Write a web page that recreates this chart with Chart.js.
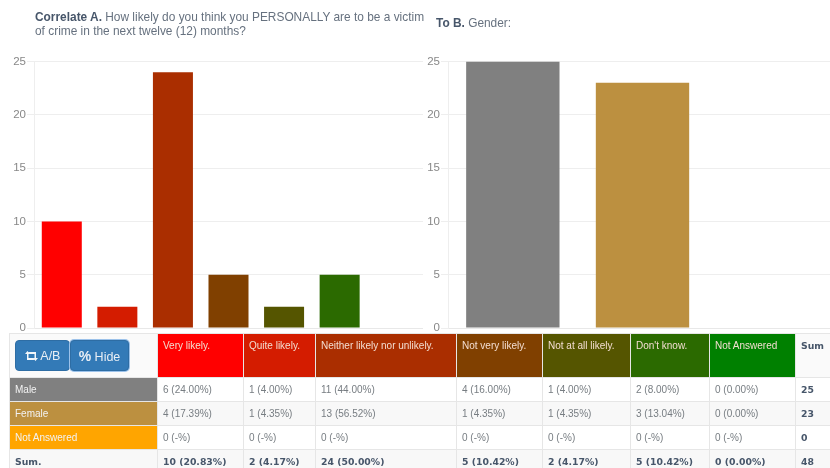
<!DOCTYPE html>
<html><head><meta charset="utf-8">
<script src="https://cdn.jsdelivr.net/npm/chart.js@4"></script>
<style>
html,body{margin:0;padding:0;background:#fff;width:830px;height:468px;overflow:hidden;font-family:"Liberation Sans",Arial,sans-serif}
#page{position:absolute;left:0;top:0;width:830px;height:468px;overflow:hidden;filter:blur(.5px)}
.t{position:absolute;font-size:11.9px;line-height:13.5px;color:#66717f}
.t b{color:#47566a}
.c{position:absolute}
table{position:absolute;left:9px;top:333px;border-collapse:collapse;table-layout:fixed;width:821px;font-size:10px;color:#777d82}
td,th{border:1px solid #e6e6e6;padding:0 0 0 5px;text-align:left;vertical-align:middle;overflow:hidden;white-space:nowrap;font-weight:normal}
thead th{height:44px;vertical-align:top;padding-top:6px;color:#f3ddd0;box-sizing:border-box;line-height:12px}
tbody td{height:24px;box-sizing:border-box}
tr.alt td{background:#f8f8f8}
td.lab{color:#f2f2f2;padding-left:5px}
.sum td{font:bold 9.3px "DejaVu Sans",sans-serif;color:#47566a;background:#f8f8f8}
td.tot,th.tot{font:bold 9.3px "DejaVu Sans",sans-serif!important;color:#47566a!important}
.btn{position:absolute;top:340px;height:31px;background:#337ab7;border:1px solid #2e6da4;border-radius:4px;color:#e8eef5;font-size:12.5px;line-height:31px;text-align:center;box-sizing:border-box}
</style></head><body>
<div id="page">
<div class="t" style="left:35px;top:11px;width:395px"><b>Correlate A.</b> How likely do you think you PERSONALLY are to be a victim of crime in the next twelve (12) months?</div>
<div class="t" style="left:436px;top:17px"><b>To B.</b> Gender:</div>
<div class="c" style="left:0;top:50px;width:423px;height:286px"><canvas id="a"></canvas></div>
<div class="c" style="left:420px;top:50px;width:417px;height:286px"><canvas id="b"></canvas></div>
<table id="tb"></table>
<div class="btn" style="left:15px;width:55px"><svg width="13" height="10" viewBox="0 0 13 10" style="vertical-align:-1px"><path d="M0 3 L2.5 0 L5 3 H3.5 V7 H8 L9.5 9 H2 V3Z M13 7 L10.5 10 L8 7 H9.5 V3 H5 L3.5 1 H11 V7Z" fill="#f2f6fa"/></svg> A/B</div>
<div class="btn" style="left:70px;width:59px;box-shadow:0 0 0 1px #9cc2ea"><b style="font-size:14px">%</b> Hide</div>
</div>
<script>
const catsA=["Very likely.","Quite likely.","Neither likely nor unlikely.","Not very likely.","Not at all likely.","Don't know.","Not Answered"];
const valsA=[10,2,24,5,2,5,0];
const colorsA=["#ff0000","#d41c00","#aa2e00","#804000","#555500","#2b6a00","#008000"];
const catsB=["Male","Female","Not Answered"];
const valsB=[25,23,0];
const colorsB=["#808080","#bc9040","#ffa500"];
const yTicks=[0,5,10,15,20,25];
const rowMale=["6 (24.00%)","1 (4.00%)","11 (44.00%)","4 (16.00%)","1 (4.00%)","2 (8.00%)","0 (0.00%)"];
const rowFemale=["4 (17.39%)","1 (4.35%)","13 (56.52%)","1 (4.35%)","1 (4.35%)","3 (13.04%)","0 (0.00%)"];
const rowNA=["0 (-%)","0 (-%)","0 (-%)","0 (-%)","0 (-%)","0 (-%)","0 (-%)"];
const rowSum=["10 (20.83%)","2 (4.17%)","24 (50.00%)","5 (10.42%)","2 (4.17%)","5 (10.42%)","0 (0.00%)"];
const rowTotals=["25","23","0","48"];

function mk(id,labels,vals,colors,axisW){
  new Chart(document.getElementById(id),{type:'bar',
    data:{labels:labels,datasets:[{data:vals,backgroundColor:colors,borderWidth:0}]},
    options:{responsive:true,maintainAspectRatio:false,animation:false,
      layout:{padding:{top:11.5,bottom:0,left:0,right:0}},
      plugins:{legend:{display:false},tooltip:{enabled:false}},
      scales:{
        x:{ticks:{display:false},grid:{display:false},border:{color:'#e8e8e8'}},
        y:{min:0,max:25,afterFit:s=>{s.width=axisW},afterBuildTicks:s=>{s.ticks=yTicks.map(v=>({value:v}))},
           ticks:{color:'#888',font:{family:'"Liberation Sans"',size:11.5},padding:1},
           grid:{color:'#eeeeee',tickLength:7},border:{color:'#eeeeee'}}
      }}});
}
mk('a',catsA,valsA,colorsA,34);
mk('b',catsB,valsB,colorsB,28);

const widths=[148,86,72,141,86,88,79,86,35];
let h='<colgroup>'+widths.map(w=>'<col style="width:'+w+'px">').join('')+'</colgroup><thead><tr><th style="background:#fafafa"></th>';
catsA.forEach((c,i)=>h+='<th style="background:'+colorsA[i]+'">'+c+'</th>');
h+='<th class="tot" style="background:#fafafa">Sum</th></tr></thead><tbody>';
[rowMale,rowFemale,rowNA].forEach((r,i)=>{
  h+='<tr'+(i==1?' class="alt"':'')+'><td class="lab" style="background:'+colorsB[i]+'">'+catsB[i]+'</td>';
  r.forEach(v=>h+='<td>'+v+'</td>');
  h+='<td class="tot">'+rowTotals[i]+'</td></tr>';
});
h+='<tr class="sum"><td style="padding-left:5px">Sum.</td>';
rowSum.forEach(v=>h+='<td>'+v+'</td>');
h+='<td>'+rowTotals[3]+'</td></tr></tbody>';
document.getElementById('tb').innerHTML=h;
</script>
</body></html>
